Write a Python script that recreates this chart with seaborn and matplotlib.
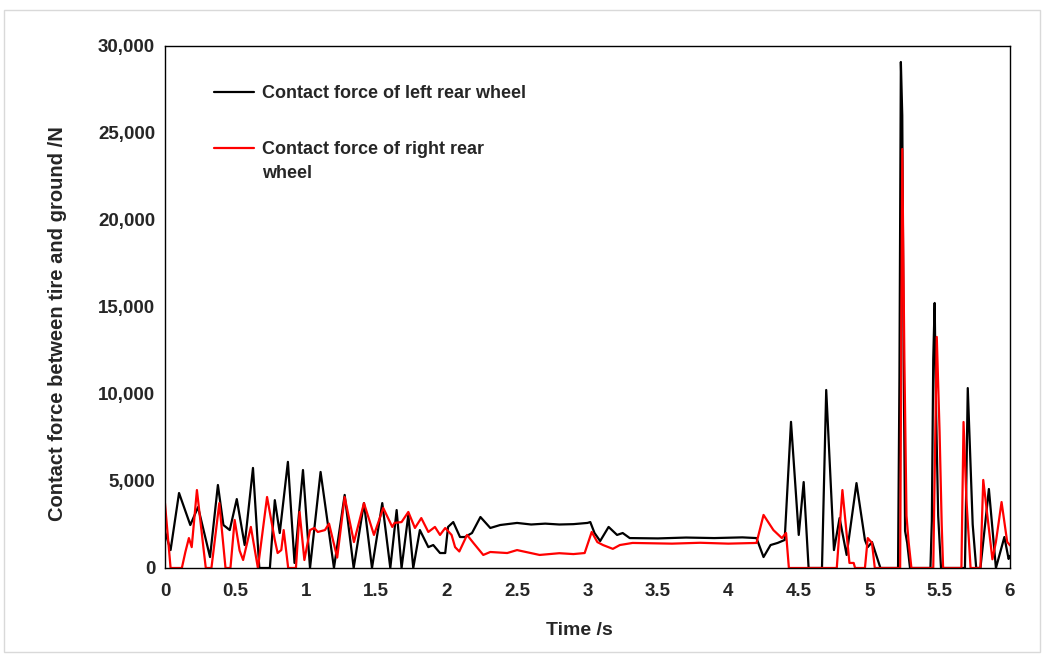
import numpy as np
import pandas as pd
import matplotlib
matplotlib.use("Agg")
import matplotlib.pyplot as plt
import seaborn as sns
from matplotlib.ticker import FuncFormatter, MultipleLocator
from matplotlib.patches import Rectangle
from matplotlib.lines import Line2D
from matplotlib.legend_handler import HandlerLine2D

# ---- data ----
left_t = [0.00, 0.04, 0.10, 0.18, 0.235, 0.32, 0.376, 0.415, 0.46, 0.51,
          0.566, 0.625, 0.67, 0.745, 0.78, 0.815, 0.873, 0.92, 0.98, 1.03,
          1.105, 1.20, 1.276, 1.34, 1.413, 1.47, 1.543, 1.60, 1.645, 1.68,
          1.728, 1.763, 1.81, 1.87, 1.905, 1.953, 1.99, 2.01, 2.047, 2.095,
          2.13, 2.18, 2.24, 2.31, 2.38, 2.50, 2.60, 2.70, 2.80, 2.90,
          3.00, 3.02, 3.05, 3.09, 3.15, 3.21, 3.25, 3.30, 3.50, 3.70,
          3.90, 4.10, 4.20, 4.25, 4.30, 4.35, 4.40, 4.445, 4.50, 4.535,
          4.57, 4.665, 4.695, 4.75, 4.79, 4.84, 4.91, 4.97, 4.99, 5.02,
          5.08, 5.205, 5.215, 5.225, 5.235, 5.245, 5.255, 5.27, 5.29, 5.435,
          5.445, 5.455, 5.465, 5.475, 5.49, 5.51, 5.68, 5.69, 5.70, 5.715,
          5.735, 5.76, 5.79, 5.85, 5.90, 5.96, 5.99, 6.00]
left_f = [2100, 1030, 4310, 2470, 3500, 630, 4770, 2470, 2180, 3960,
          1320, 5750, 0, 0, 3900, 2010, 6100, 290, 5630, 0,
          5520, 0, 4200, 0, 3730, 0, 3730, 0, 3330, 0,
          3050, 0, 2180, 1200, 1320, 860, 860, 2360, 2640, 1780,
          1780, 2010, 2930, 2300, 2470, 2590, 2500, 2550, 2500, 2520,
          2590, 2640, 2010, 1550, 2360, 1900, 2010, 1720, 1700, 1750,
          1720, 1760, 1720, 630, 1320, 1440, 1610, 8400, 1900, 4940,
          0, 0, 10230, 1030, 2870, 750, 4880, 1610, 1200, 1490,
          0, 0, 11000, 29080, 26000, 11900, 2130, 1440, 0, 0,
          2700, 12000, 15230, 9000, 3000, 0, 0, 5000, 10340, 7000,
          2500, 0, 0, 4540, 0, 1780, 520, 700]

right_t = [0.00, 0.04, 0.12, 0.145, 0.17, 0.19, 0.227, 0.275, 0.29, 0.33,
           0.386, 0.43, 0.465, 0.495, 0.53, 0.555, 0.61, 0.66, 0.725, 0.78,
           0.80, 0.826, 0.843, 0.875, 0.93, 0.956, 0.99, 1.03, 1.06, 1.085,
           1.136, 1.165, 1.223, 1.276, 1.342, 1.413, 1.484, 1.55, 1.614, 1.63,
           1.68, 1.728, 1.775, 1.82, 1.87, 1.917, 1.953, 1.99, 2.035, 2.06,
           2.09, 2.145, 2.19, 2.26, 2.31, 2.43, 2.50, 2.66, 2.80, 2.90,
           2.98, 3.03, 3.07, 3.11, 3.18, 3.23, 3.32, 3.60, 3.80, 4.00,
           4.20, 4.25, 4.32, 4.38, 4.41, 4.43, 4.77, 4.81, 4.86, 4.89,
           4.90, 4.97, 4.99, 5.02, 5.04, 5.22, 5.235, 5.25, 5.265, 5.28,
           5.30, 5.455, 5.48, 5.50, 5.515, 5.525, 5.655, 5.67, 5.69, 5.72,
           5.79, 5.81, 5.875, 5.90, 5.94, 5.98, 6.00]
right_f = [3730, 0, 0, 920, 1720, 1200, 4480, 1030, 0, 0,
           3730, 0, 0, 2760, 1000, 460, 2360, 0, 4080, 1610,
           860, 1030, 2180, 0, 0, 3220, 460, 2180, 2300, 2070,
           2180, 2550, 600, 4080, 1490, 3730, 1900, 3450, 2360, 2590,
           2640, 3220, 2300, 2870, 2070, 2360, 1900, 2300, 1900, 1200,
           950, 1900, 1440, 750, 920, 860, 1030, 750, 850, 800,
           860, 2070, 1490, 1320, 1100, 1320, 1440, 1400, 1450, 1400,
           1440, 3050, 2180, 1720, 2010, 0, 0, 4480, 290, 290,
           0, 0, 1720, 1440, 0, 0, 24080, 12000, 3000, 1500,
           0, 0, 13280, 7800, 2500, 0, 0, 8390, 4000, 0,
           0, 5060, 500, 1500, 3790, 1500, 1300]

series_labels = ["Contact force of left rear wheel",
                 "Contact force of right rear\nwheel"]
x_label = "Time /s"
y_label = "Contact force between tire and ground /N"

df_left = pd.DataFrame({"t": left_t, "f": left_f})
df_right = pd.DataFrame({"t": right_t, "f": right_f})

# ---- style ----
sns.set_style("white")
plt.rcParams["font.family"] = ["Liberation Sans", "DejaVu Sans"]
plt.rcParams["font.weight"] = "bold"

fig = plt.figure(figsize=(10.42, 6.54), dpi=100)
ax = fig.add_axes([0.1583, 0.1315, 0.9693 - 0.1583, 0.9297 - 0.1315])

sns.lineplot(data=df_left, x="t", y="f", ax=ax, color="black", lw=1.6,
             sort=False, estimator=None, label=series_labels[0])
sns.lineplot(data=df_right, x="t", y="f", ax=ax, color="#ff0000", lw=1.6,
             sort=False, estimator=None, label=series_labels[1])

ax.set_xlim(0, 6)
ax.set_ylim(0, 30000)
ax.xaxis.set_major_locator(MultipleLocator(0.5))
ax.yaxis.set_major_locator(MultipleLocator(5000))
ax.xaxis.set_major_formatter(FuncFormatter(lambda v, p: f"{v:g}"))
ax.yaxis.set_major_formatter(FuncFormatter(lambda v, p: f"{int(v):,}"))
ax.tick_params(axis="x", direction="in", length=5, width=1, labelsize=13.5, pad=11, color="black")
ax.tick_params(axis="y", direction="out", length=4, width=1, labelsize=13.5, pad=3, color="black")
for lab in ax.get_xticklabels() + ax.get_yticklabels():
    lab.set_fontweight("bold")

for s in ax.spines.values():
    s.set_visible(True)
    s.set_color("black")
    s.set_linewidth(1.0)

ax.set_xlabel(x_label, fontsize=14, fontweight="bold")
ax.set_ylabel(y_label, fontsize=14.5, fontweight="bold")
ax.xaxis.set_label_coords(0.491, -0.104)
ax.yaxis.set_label_coords(-0.116, 0.469)


class OffsetLineHandler(HandlerLine2D):
    def __init__(self, dy=0.0, **kw):
        super().__init__(**kw)
        self.dy = dy

    def create_artists(self, legend, orig_handle, xdescent, ydescent, width,
                       height, fontsize, trans):
        arts = super().create_artists(legend, orig_handle, xdescent, ydescent,
                                      width, height, fontsize, trans)
        for a in arts:
            if isinstance(a, Line2D):
                a.set_ydata(np.asarray(a.get_ydata(), dtype=float) + self.dy)
        return arts


handles, labels = ax.get_legend_handles_labels()
leg = ax.legend(handles, labels, loc="upper left", bbox_to_anchor=(0.039, 0.956),
                frameon=False, handlelength=2.2, handletextpad=0.45,
                labelspacing=2.15, prop={"weight": "bold", "size": 13},
                handler_map={handles[1]: OffsetLineHandler(dy=9.5)})
for t in leg.get_texts():
    t.set_linespacing(1.5)

fig.patches.append(Rectangle((4 / 1042, 2 / 654), 1036 / 1042, 642 / 654,
                             transform=fig.transFigure, fill=False,
                             edgecolor="#d9d9d9", lw=1.0))

fig.savefig("out.png", dpi=100)
